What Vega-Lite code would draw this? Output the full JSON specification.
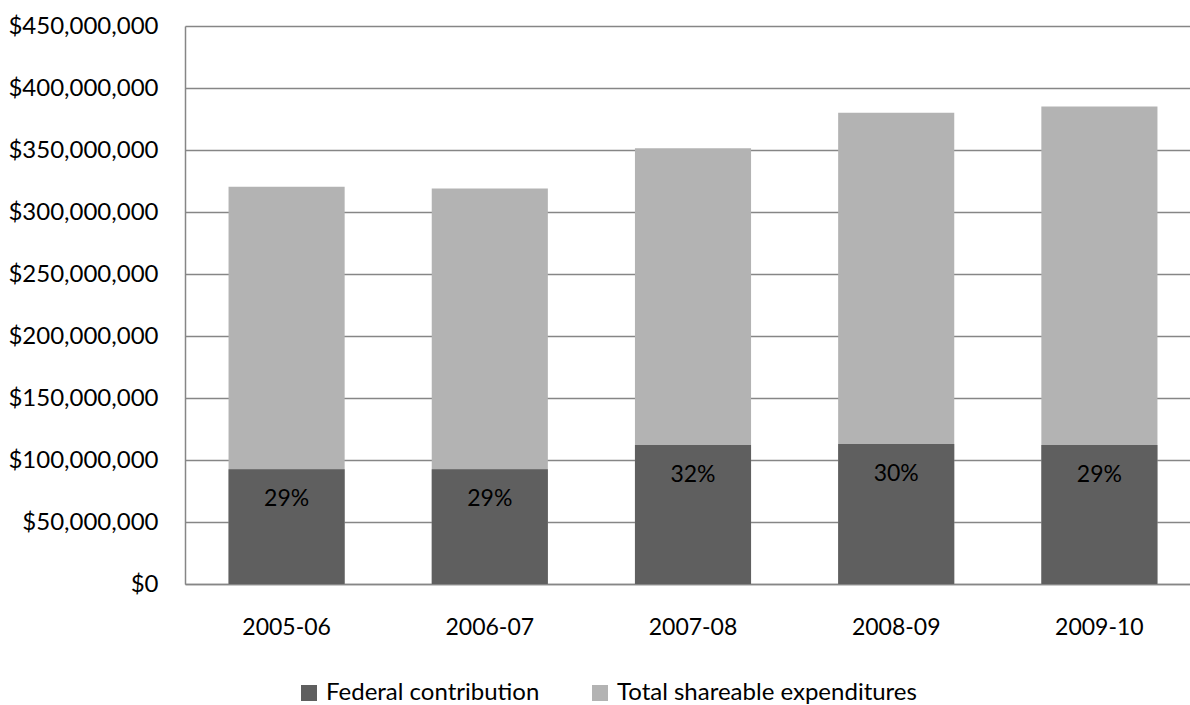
{
  "$schema": "https://vega.github.io/schema/vega-lite/v6.json",
  "width": 1005,
  "height": 558,
  "autosize": {"type": "none"},
  "padding": {"left": 185, "top": 26, "right": 0, "bottom": 121},
  "background": "white",
  "config": {
    "view": {"stroke": null},
    "font": "Lato",
    "axis": {
      "labelFont": "Lato",
      "labelFontSize": 23,
      "labelColor": "#000000",
      "domainColor": "#868686",
      "domainWidth": 1.5,
      "gridColor": "#868686",
      "gridWidth": 1.5,
      "ticks": false,
      "title": null
    },
    "legend": {
      "labelFont": "Lato",
      "labelFontSize": 24,
      "labelColor": "#000000",
      "labelLimit": 0
    }
  },
  "data": {
    "values": [
      {"year": "2005-06", "series": "Total shareable expenditures", "amount": 320300000, "share": ""},
      {"year": "2006-07", "series": "Total shareable expenditures", "amount": 319000000, "share": ""},
      {"year": "2007-08", "series": "Total shareable expenditures", "amount": 351500000, "share": ""},
      {"year": "2008-09", "series": "Total shareable expenditures", "amount": 380000000, "share": ""},
      {"year": "2009-10", "series": "Total shareable expenditures", "amount": 385000000, "share": ""},
      {"year": "2005-06", "series": "Federal contribution", "amount": 92600000, "share": "29%"},
      {"year": "2006-07", "series": "Federal contribution", "amount": 92600000, "share": "29%"},
      {"year": "2007-08", "series": "Federal contribution", "amount": 112000000, "share": "32%"},
      {"year": "2008-09", "series": "Federal contribution", "amount": 113000000, "share": "30%"},
      {"year": "2009-10", "series": "Federal contribution", "amount": 112000000, "share": "29%"}
    ]
  },
  "encoding": {
    "x": {
      "field": "year",
      "type": "ordinal",
      "sort": null,
      "scale": {"range": [0, 1016], "paddingInner": 0.4286, "paddingOuter": 0.2143},
      "axis": {"labelAngle": 0, "labelPadding": 32, "grid": false}
    },
    "y": {
      "field": "amount",
      "type": "quantitative",
      "stack": null,
      "scale": {"domain": [0, 450000000], "nice": false},
      "axis": {
        "values": [0, 50000000, 100000000, 150000000, 200000000, 250000000, 300000000, 350000000, 400000000, 450000000],
        "format": "$,.0f",
        "labelFontSize": 24,
        "labelPadding": 27,
        "grid": true
      }
    }
  },
  "layer": [
    {
      "mark": {"type": "bar"},
      "encoding": {
        "color": {
          "field": "series",
          "type": "nominal",
          "scale": {
            "domain": ["Federal contribution", "Total shareable expenditures"],
            "range": ["#5F5F5F", "#B3B3B3"]
          },
          "legend": {
            "title": null,
            "orient": "none",
            "legendX": 112,
            "legendY": 655,
            "direction": "horizontal",
            "symbolType": "square",
            "symbolSize": 256,
            "symbolStrokeWidth": 0,
            "symbolOpacity": 1,
            "labelOffset": 5,
            "columnPadding": 48,
            "padding": 0
          }
        }
      }
    },
    {
      "transform": [{"filter": "datum.series === 'Federal contribution'"}],
      "mark": {"type": "text", "baseline": "middle", "dy": 30, "fontSize": 23, "color": "#000000", "font": "Lato"},
      "encoding": {
        "text": {"field": "share"}
      }
    }
  ]
}
